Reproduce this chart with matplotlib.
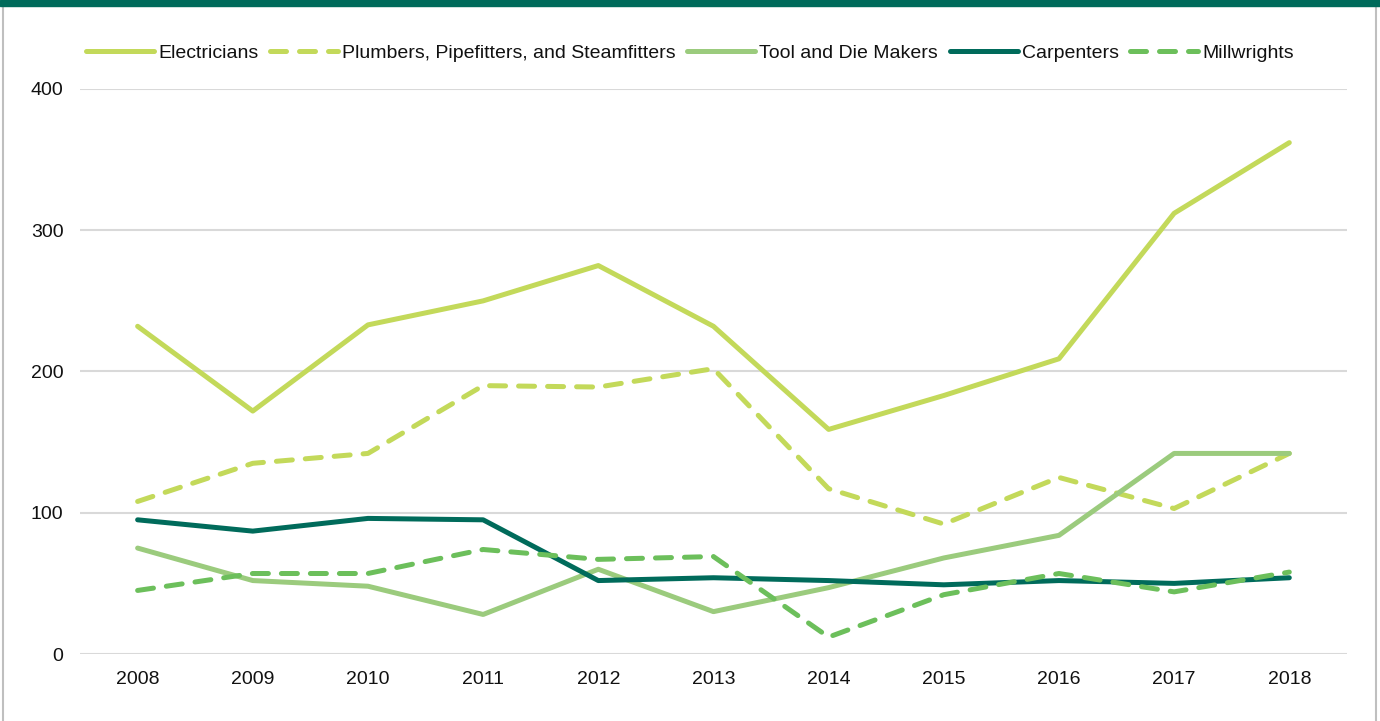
import matplotlib.pyplot as plt
from matplotlib.patches import Rectangle
from matplotlib.lines import Line2D

years = ['2008', '2009', '2010', '2011', '2012', '2013', '2014', '2015', '2016', '2017', '2018']
electricians = [232, 172, 233, 250, 275, 232, 159, 183, 209, 312, 362]
plumbers = [108, 135, 142, 190, 189, 202, 117, 92, 125, 103, 142]
tool_die = [75, 52, 48, 28, 60, 30, 47, 68, 84, 142, 142]
carpenters = [95, 87, 96, 95, 52, 54, 52, 49, 52, 50, 54]
millwrights = [45, 57, 57, 74, 67, 69, 12, 42, 57, 44, 58]

plt.rcParams['font.family'] = ['Liberation Sans', 'DejaVu Sans']

fig = plt.figure(figsize=(13.8, 7.21), dpi=100)
ax = fig.add_axes([0.058, 0.0929, 0.918, 0.7837])

x = range(len(years))
lw = 3.6
dash = (3.2, 2.6)
ax.plot(x, electricians, color='#C3D95A', lw=lw, label='Electricians', solid_capstyle='round')
ax.plot(x, plumbers, color='#C3D95A', lw=lw, dashes=dash, dash_capstyle='round',
        label='Plumbers, Pipefitters, and Steamfitters')
ax.plot(x, tool_die, color='#9BCB7D', lw=lw, label='Tool and Die Makers', solid_capstyle='round')
ax.plot(x, carpenters, color='#006B5B', lw=lw, label='Carpenters', solid_capstyle='round')
ax.plot(x, millwrights, color='#6CBF5B', lw=lw, dashes=dash, dash_capstyle='round',
        label='Millwrights')

ax.set_xlim(-0.5, len(years) - 0.5)
ax.set_ylim(0, 400)
ax.set_yticks([0, 100, 200, 300, 400])
ax.set_xticks(list(x))
ax.set_xticklabels(years)
ax.tick_params(length=0, labelsize=14, colors='#111111')
ax.tick_params(axis='y', pad=12)
ax.tick_params(axis='x', pad=12)
ax.grid(axis='y', color='#D9D9D9', lw=1.5)
ax.set_axisbelow(True)
for s in ax.spines.values():
    s.set_visible(False)

ax.legend(loc='center', bbox_to_anchor=(0.5, (721 - 53) / 721), bbox_transform=fig.transFigure,
          ncol=5, frameon=False, fontsize=14, handlelength=3.5, handletextpad=0.2,
          columnspacing=0.6, labelcolor='#111111')

# frame: teal bar on top, grey sides
fig.patches.append(Rectangle((0, 1 - 6 / 721), 1, 6 / 721, transform=fig.transFigure,
                             color='#006B5B', zorder=5))
fig.lines.append(Line2D([3 / 1380, 3 / 1380], [0, 1], transform=fig.transFigure,
                        color='#BFBFBF', lw=1.5))
fig.lines.append(Line2D([1376 / 1380, 1376 / 1380], [0, 1], transform=fig.transFigure,
                        color='#BFBFBF', lw=1.5))

fig.savefig('out.png', dpi=100)
